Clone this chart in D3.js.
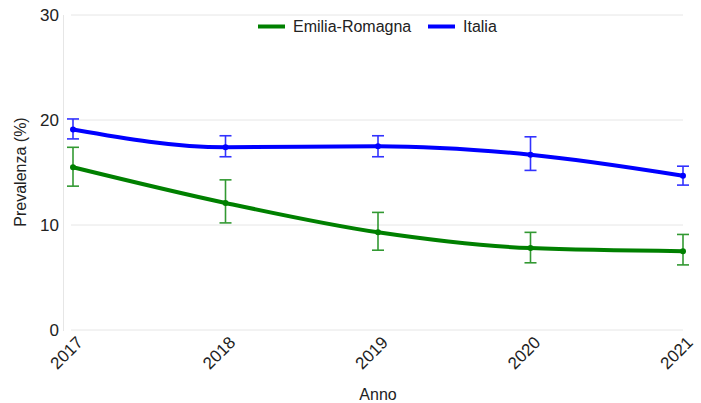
<!DOCTYPE html>
<html><head><meta charset="utf-8">
<script src="https://cdn.jsdelivr.net/npm/d3@7"></script>
<style>body{margin:0;background:#fff}svg{display:block;font-family:"Liberation Sans",Arial,sans-serif}</style>
</head><body><svg id="c" width="701" height="403"></svg>
<script>
const years = [2017, 2018, 2019, 2020, 2021];
const seriesNames = ["Emilia-Romagna", "Italia"];
const erValues = [15.5, 12.1, 9.3, 7.8, 7.5];
const erLow = [13.7, 10.2, 7.6, 6.4, 6.2];
const erHigh = [17.4, 14.3, 11.2, 9.3, 9.1];
const itValues = [19.1, 17.4, 17.5, 16.7, 14.7];
const itLow = [18.2, 16.5, 16.5, 15.2, 13.8];
const itHigh = [20.1, 18.5, 18.5, 18.4, 15.6];
const yTicks = [0, 10, 20, 30];
const colors = ["#008000", "#0000ff"];

const svg = d3.select("#c");
const x = d3.scalePoint().domain(years).range([73, 683]);
const y = d3.scaleLinear().domain([0, 30]).range([330, 15]);

// grid
svg.append("g").selectAll("line").data(yTicks).join("line")
  .attr("x1", 71).attr("x2", 683).attr("y1", d => y(d)).attr("y2", d => y(d))
  .attr("stroke", "#e6e6e6").attr("stroke-width", 1);
svg.append("line").attr("x1", 63.5).attr("x2", 63.5).attr("y1", 15).attr("y2", 331)
  .attr("stroke", "#e6e6e6");

const yAxis = svg.append("g").attr("transform", "translate(63,0)")
  .call(d3.axisLeft(y).tickValues(yTicks).tickSize(0).tickPadding(4));
yAxis.select(".domain").remove();
yAxis.selectAll("text").attr("font-size", 17).attr("fill", "#222").attr("font-family", "Liberation Sans, Arial, sans-serif");

const xAxis = svg.append("g").attr("transform", "translate(0,336)")
  .call(d3.axisBottom(x).tickSize(0).tickPadding(0).tickFormat(d3.format("d")));
xAxis.select(".domain").remove();
xAxis.selectAll("text").attr("font-size", 17).attr("fill", "#222")
  .attr("font-family", "Liberation Sans, Arial, sans-serif")
  .attr("text-anchor", "end").attr("dy", "0.71em")
  .attr("transform", "translate(2,-1) rotate(-45)");

svg.append("text").attr("x", 378).attr("y", 400).attr("text-anchor", "middle")
  .attr("font-size", 16).attr("fill", "#222").text("Anno");
svg.append("text").attr("transform", "translate(26,172) rotate(-90)").attr("text-anchor", "middle")
  .attr("font-size", 16).attr("fill", "#222").text("Prevalenza (%)");

const series = [
  {name: seriesNames[0], v: erValues, lo: erLow, hi: erHigh, c: colors[0]},
  {name: seriesNames[1], v: itValues, lo: itLow, hi: itHigh, c: colors[1]}
];
const line = d3.line().x((d, i) => x(years[i])).y(d => y(d)).curve(d3.curveMonotoneX);
series.forEach(s => {
  svg.append("path").attr("d", line(s.v)).attr("fill", "none")
    .attr("stroke", s.c).attr("stroke-width", 4).attr("stroke-linejoin", "round");
  const g = svg.append("g").attr("stroke", s.c).attr("stroke-width", 1.6).attr("opacity", 0.8);
  years.forEach((yr, i) => {
    const cx = x(yr);
    g.append("line").attr("x1", cx).attr("x2", cx).attr("y1", y(s.lo[i])).attr("y2", y(s.hi[i]));
    g.append("line").attr("x1", cx - 6).attr("x2", cx + 6).attr("y1", y(s.lo[i])).attr("y2", y(s.lo[i]));
    g.append("line").attr("x1", cx - 6).attr("x2", cx + 6).attr("y1", y(s.hi[i])).attr("y2", y(s.hi[i]));
  });
  svg.append("g").selectAll("circle").data(s.v).join("circle")
    .attr("cx", (d, i) => x(years[i])).attr("cy", d => y(d)).attr("r", 3).attr("fill", s.c);
});

// legend
const leg = svg.append("g");
const legX = [258, 428];
series.forEach((s, i) => {
  leg.append("line").attr("x1", legX[i]).attr("x2", legX[i] + 27).attr("y1", 26.5).attr("y2", 26.5)
    .attr("stroke", s.c).attr("stroke-width", 4);
  leg.append("text").attr("x", legX[i] + 35).attr("y", 32).attr("font-size", 16).attr("fill", "#222").text(s.name);
});
</script></body></html>
